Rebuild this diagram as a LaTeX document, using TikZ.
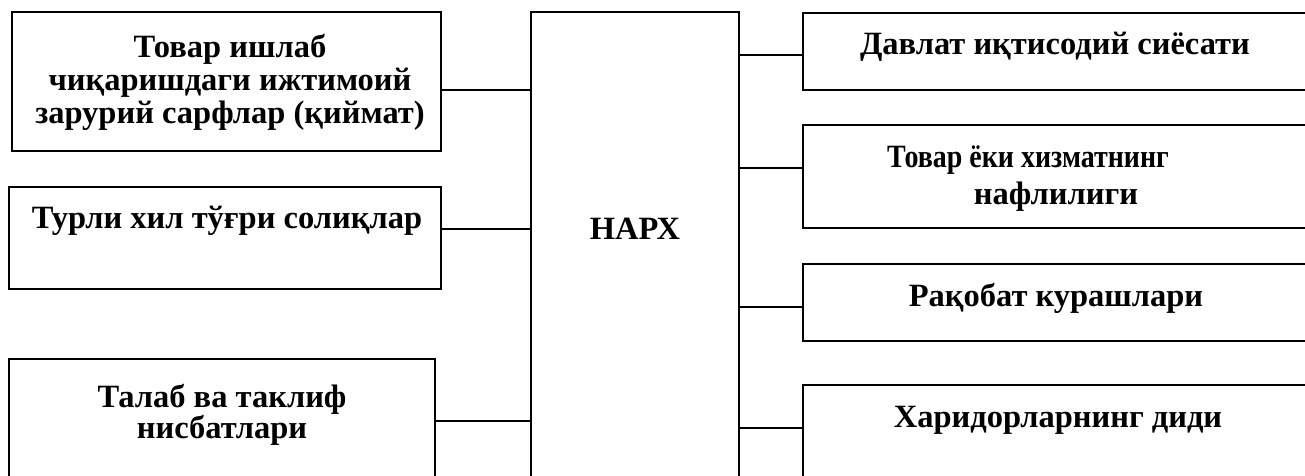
\documentclass[tikz,border=0pt]{standalone}
\usepackage{graphicx}
\usepackage{fontspec}
\setmainfont{Liberation Serif}
\begin{document}
\begin{tikzpicture}[x=1pt,y=-1pt,
  box/.style={draw, line width=1.6pt, inner sep=0pt, outer sep=0pt, anchor=north west},
  txt/.style={font=\fontsize{32.5}{36}\selectfont\bfseries, inner sep=0pt, anchor=base},
  link/.style={line width=1.6pt}]
\useasboundingbox (0,0) rectangle (1305,475);
\clip (0,0) rectangle (1305,475);
% boxes
\node[box, minimum width=429pt, minimum height=139pt] (l1) at (12,12) {};
\node[box, minimum width=432pt, minimum height=102pt] (l2) at (9,187) {};
\node[box, minimum width=426pt, minimum height=140pt] (l3) at (9,359) {};
\node[box, minimum width=208pt, minimum height=480pt] (c) at (531,12) {};
\node[box, minimum width=506pt, minimum height=77pt] (r1) at (803,13) {};
\node[box, minimum width=506pt, minimum height=103pt] (r2) at (803,125) {};
\node[box, minimum width=506pt, minimum height=77pt] (r3) at (803,264) {};
\node[box, minimum width=506pt, minimum height=120pt] (r4) at (803,385) {};
% connector levels
\coordinate (yl1) at (0,90);
\coordinate (yl2) at (0,229);
\coordinate (yl3) at (0,421);
\coordinate (yr1) at (0,55);
\coordinate (yr2) at (0,168);
\coordinate (yr3) at (0,307);
\coordinate (yr4) at (0,428);
\draw[link] (l1.east |- yl1) -- (c.west |- yl1);
\draw[link] (l2.east |- yl2) -- (c.west |- yl2);
\draw[link] (l3.east |- yl3) -- (c.west |- yl3);
\draw[link] (c.east |- yr1) -- (r1.west |- yr1);
\draw[link] (c.east |- yr2) -- (r2.west |- yr2);
\draw[link] (c.east |- yr3) -- (r3.west |- yr3);
\draw[link] (c.east |- yr4) -- (r4.west |- yr4);
% texts
\node[txt] (t1a) at (230,57) {Товар ишлаб};
\node[txt] (t1b) at (230,90) {чиқаришдаги ижтимоий};
\node[txt] (t1c) at (230,123) {зарурий сарфлар (қиймат)};
\node[txt] (t2) at (227,228) {Турли хил тўғри солиқлар};
\node[txt] (t3a) at (222,407) {Талаб ва таклиф};
\node[txt] (t3b) at (222,438) {нисбатлари};
\node[txt] (tc) at (635,239) {НАРХ};
\node[txt] (tr1) at (1055,54) {Давлат иқтисодий сиёсати};
\node[txt] (tr2a) at (1028,167) {\scalebox{0.86}[1]{Товар ёки хизматнинг}};
\node[txt] (tr2b) at (1056,204) {нафлилиги};
\node[txt] (tr3) at (1056,306) {Рақобат курашлари};
\node[txt] (tr4) at (1058,427) {Харидорларнинг диди};
\end{tikzpicture}
\end{document}
